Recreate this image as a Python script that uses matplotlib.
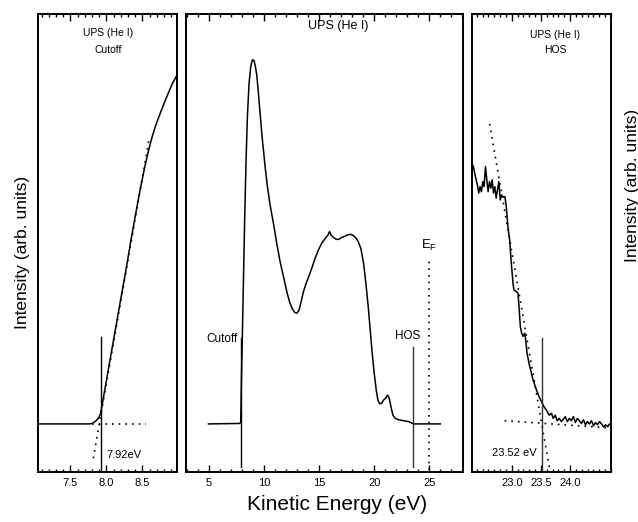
import numpy as np
import matplotlib
matplotlib.use("Agg")
import matplotlib.pyplot as plt
from matplotlib.ticker import MultipleLocator, FixedLocator, FormatStrFormatter

plt.rcParams['font.family'] = ['Liberation Sans', 'DejaVu Sans']

# ---- left panel: secondary electron cutoff ----
cut_e = [7.035, 7.757, 7.804, 7.850, 7.896, 7.920, 7.989, 8.058, 8.128, 8.197,
         8.267, 8.336, 8.405, 8.475, 8.545, 8.591, 8.637, 8.683, 8.730, 8.776,
         8.822, 8.869, 8.915, 8.975]
cut_i = [10.5, 10.5, 10.6, 11.1, 11.9, 12.8, 19.0, 25.2, 31.4, 37.6,
         43.7, 50.2, 56.3, 62.2, 67.5, 70.6, 73.3, 75.6, 77.6, 79.5,
         81.3, 83.1, 84.8, 86.5]
cut_tangent_e = [7.818, 8.591]
cut_tangent_i = [3.0, 72.5]
cut_base_e = [7.80, 8.545]
cut_base_i = [10.5, 10.5]
cutoff_ev = 7.92

# ---- middle panel: full spectrum ----
full_e = [4.95, 7.757, 7.879, 7.939, 8.030, 8.121, 8.242, 8.364, 8.485, 8.636,
          8.788, 8.939, 9.091, 9.212, 9.333, 9.485, 9.636, 9.848, 10.091, 10.303,
          10.545, 10.848, 11.152, 11.455, 11.758, 12.061, 12.303, 12.545, 12.788, 12.994,
          13.182, 13.364, 13.576, 13.818, 14.061, 14.333, 14.636, 14.939, 15.242, 15.545,
          15.788, 15.939, 16.091, 16.303, 16.545, 16.788, 17.030, 17.273, 17.515, 17.818,
          18.061, 18.303, 18.545, 18.788, 19.030, 19.242, 19.455, 19.636, 19.818, 20.000,
          20.182, 20.333, 20.485, 20.667, 20.848, 21.030, 21.212, 21.364, 21.515, 21.697,
          21.909, 22.212, 22.667, 23.121, 23.576, 26.0]
full_i = [10.5, 10.6, 10.8, 19.4, 30.3, 41.2, 55.8, 68.1, 77.6, 84.9,
          88.5, 90.0, 89.8, 88.5, 86.7, 82.7, 78.3, 72.5, 66.7, 62.3,
          58.3, 54.3, 49.9, 45.9, 42.7, 39.4, 37.2, 35.7, 34.8, 34.7,
          35.4, 37.2, 39.4, 41.2, 42.7, 44.5, 46.7, 48.5, 50.0, 51.0,
          51.7, 52.5, 51.7, 51.2, 50.8, 50.8, 51.2, 51.4, 51.7, 51.9,
          51.7, 51.2, 50.3, 48.8, 45.6, 41.2, 36.1, 31.0, 25.9, 21.5,
          17.9, 15.7, 14.9, 15.0, 15.7, 16.1, 16.8, 16.1, 14.3, 12.4,
          11.7, 11.4, 11.2, 11.0, 10.5, 10.5]
hos_ev = 23.52
fermi_ev = 25.0

# ---- right panel: highest occupied states edge ----
hos_e = [22.314, 22.342, 22.377, 22.411, 22.434, 22.457, 22.480, 22.503, 22.526, 22.549,
         22.572, 22.595, 22.618, 22.641, 22.664, 22.687, 22.710, 22.733, 22.756, 22.779,
         22.802, 22.825, 22.848, 22.883, 22.906, 22.934, 22.963, 22.992, 23.021, 23.038,
         23.078, 23.107, 23.124, 23.147, 23.170, 23.193, 23.222, 23.239, 23.262, 23.296,
         23.337, 23.365, 23.394, 23.434, 23.469, 23.509, 23.549, 23.595, 23.641, 23.681,
         23.710, 23.745, 23.779, 23.814, 23.848, 23.883, 23.917, 23.952, 23.986, 24.021,
         24.055, 24.090, 24.124, 24.159, 24.193, 24.228, 24.262, 24.297, 24.331, 24.366,
         24.400, 24.435, 24.469, 24.504, 24.538, 24.573, 24.607, 24.642, 24.676, 24.700]
hos_i = [67.4, 66.7, 64.5, 62.7, 60.9, 62.3, 61.2, 63.4, 62.3, 66.7,
         63.8, 61.2, 63.4, 62.0, 63.8, 60.9, 62.3, 59.8, 61.6, 63.4,
         59.4, 60.5, 60.1, 60.1, 57.9, 53.6, 50.7, 45.6, 41.2, 39.7,
         39.4, 39.0, 36.1, 31.7, 30.3, 29.6, 30.3, 28.8, 25.9, 23.7,
         21.5, 20.1, 19.0, 17.5, 16.4, 15.4, 14.3, 13.5, 12.4, 12.8,
         11.7, 12.4, 11.2, 11.7, 11.0, 11.5, 12.1, 11.0, 11.7, 11.2,
         12.1, 10.8, 11.7, 11.2, 10.6, 11.4, 10.3, 11.0, 10.5, 11.2,
         10.1, 10.8, 10.3, 11.0, 10.5, 9.8, 10.3, 9.9, 10.5, 10.3]
hos_tangent_e = [22.62, 23.65]
hos_tangent_i = [76.0, 0.5]
hos_base_e = [22.877, 24.70]
hos_base_i = [11.2, 9.6]

W, H = 638, 522
fig = plt.figure(figsize=(W / 100, H / 100), dpi=100)

def px_axes(x0, w):
    return fig.add_axes([x0 / W, 50 / H, w / W, 458 / H])

ax1 = px_axes(38, 139)
ax2 = px_axes(186, 277)
ax3 = px_axes(471.5, 139.5)

dots = (0, (1, 3))
for ax in (ax1, ax2, ax3):
    ax.set_ylim(0, 100)
    ax.set_yticks([])
    for s in ax.spines.values():
        s.set_linewidth(1.4)
    ax.tick_params(axis='x', which='both', direction='in', top=True, bottom=True,
                   labelsize=8, pad=4, width=1.0)
    ax.tick_params(axis='x', which='major', length=5)
    ax.tick_params(axis='x', which='minor', length=2.5)

# left
ax1.plot(cut_e, cut_i, color='black', lw=1.1)
ax1.plot(cut_tangent_e, cut_tangent_i, color='black', lw=1.2, ls=dots)
ax1.plot(cut_base_e, cut_base_i, color='black', lw=1.2, ls=dots)
ax1.plot([cutoff_ev, cutoff_ev], [0, 29.5], color='black', lw=1.0)
ax1.text(8.0, 3.8, '7.92eV', fontsize=8, ha='left', va='center')
ax1.text(0.506, 0.958, 'UPS (He I)', transform=ax1.transAxes, fontsize=7.5, ha='center', va='center')
ax1.text(0.506, 0.921, 'Cutoff', transform=ax1.transAxes, fontsize=7.5, ha='center', va='center')
ax1.set_xlim(7.05, 8.98)
ax1.xaxis.set_major_locator(FixedLocator([7.5, 8.0, 8.5]))
ax1.xaxis.set_minor_locator(MultipleLocator(0.1))
ax1.xaxis.set_major_formatter(FormatStrFormatter('%.1f'))

# middle
ax2.plot(full_e, full_i, color='black', lw=1.1)
ax2.plot([cutoff_ev, cutoff_ev], [1, 29.2], color='black', lw=1.0)
ax2.plot([hos_ev, hos_ev], [1, 27.4], color='#333333', lw=1.0)
ax2.plot([fermi_ev, fermi_ev], [0.5, 47.0], color='black', lw=1.2, ls=dots)
ax2.text(7.64, 29.0, 'Cutoff', fontsize=8.5, ha='right', va='center')
ax2.text(23.05, 29.6, 'HOS', fontsize=8.5, ha='center', va='center')
ax2.text(24.95, 47.8, r'E$_\mathregular{F}$', fontsize=9.5, ha='center', va='bottom')
ax2.text(0.55, 0.974, 'UPS (He I)', transform=ax2.transAxes, fontsize=9, ha='center', va='center')
ax2.set_xlim(2.91, 28.06)
ax2.xaxis.set_major_locator(MultipleLocator(5))
ax2.xaxis.set_minor_locator(MultipleLocator(1))

# right
ax3.plot(hos_e, hos_i, color='black', lw=1.1)
ax3.plot(hos_tangent_e, hos_tangent_i, color='black', lw=1.2, ls=dots)
ax3.plot(hos_base_e, hos_base_i, color='black', lw=1.2, ls=dots)
ax3.plot([hos_ev, hos_ev], [0.5, 29.2], color='#333333', lw=1.0)
ax3.text(23.434, 4.2, '23.52 eV', fontsize=8, ha='right', va='center')
ax3.text(0.60, 0.954, 'UPS (He I)', transform=ax3.transAxes, fontsize=7.5, ha='center', va='center')
ax3.text(0.60, 0.921, 'HOS', transform=ax3.transAxes, fontsize=7.5, ha='center', va='center')
ax3.set_xlim(22.31, 24.70)
ax3.xaxis.set_major_locator(FixedLocator([23.0, 23.5, 24.0]))
ax3.xaxis.set_minor_locator(MultipleLocator(0.1))
ax3.xaxis.set_major_formatter(FormatStrFormatter('%.1f'))

fig.text(23 / W, 1 - 252 / H, 'Intensity (arb. units)', rotation=90, fontsize=12.5,
         ha='center', va='center')
fig.text(632 / W, 1 - 185 / H, 'Intensity (arb. units)', rotation=90, fontsize=12.5,
         ha='center', va='center')
fig.text(337 / W, 1 - 505 / H, 'Kinetic Energy (eV)', fontsize=15, ha='center', va='center')

fig.savefig('out.png', dpi=100)
